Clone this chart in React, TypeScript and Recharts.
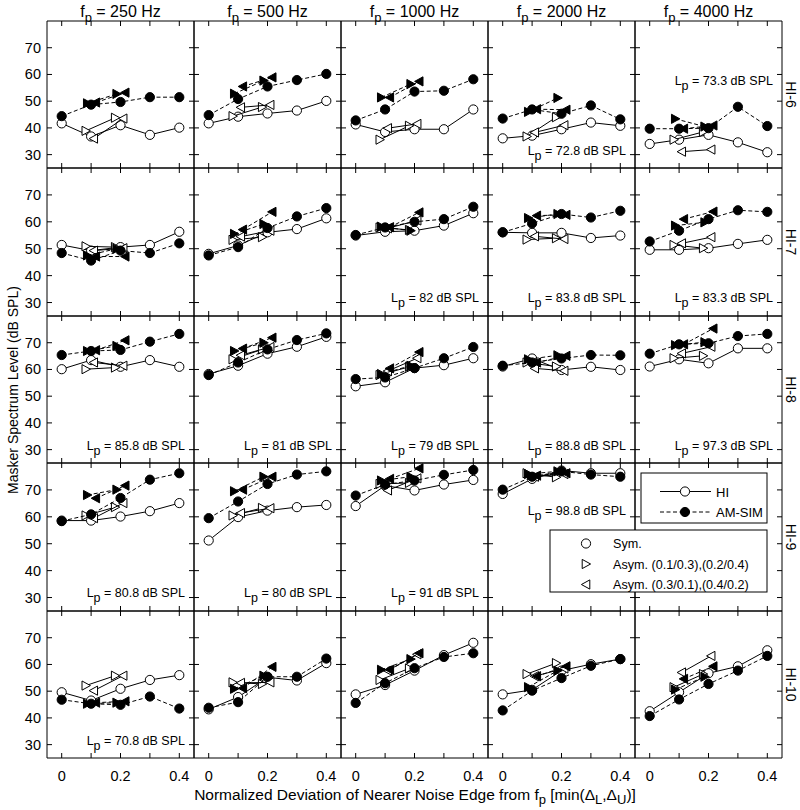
import React from 'react';
import { ScatterChart, Scatter, XAxis, YAxis } from 'recharts';

const frequencies = ['250', '500', '1000', '2000', '4000'];
const listeners = ['HI-6', 'HI-7', 'HI-8', 'HI-9', 'HI-10'];
const xSym = [0, 0.1, 0.2, 0.3, 0.4];
// asymmetric notches are plotted a little left / right of 0.1 and 0.2
const xRightHI = [0.082, 0.182];
const xRightAM = [0.087, 0.187];
const xLeftHI = [0.109, 0.209];
const xLeftAM = [0.116, 0.216];
const xTicks = [0, 0.1, 0.2, 0.3, 0.4];
const xTickLabels = [0, 0.2, 0.4];
const yTicks = [30, 40, 50, 60, 70];

// one entry per frequency (250 ... 4000 Hz)
const hi6SymHI = [[41.7, 36.8, 41.0, 37.4, 40.1], [41.7, 44.2, 45.4, 46.5, 50.1], [41.3, 38.5, 39.5, 39.5, 46.9], [36.1, 37.1, 39.5, 42.0, 40.8], [34.0, 35.6, 37.4, 34.6, 30.9]];
const hi6SymAM = [[44.4, 48.7, 49.7, 51.5, 51.5], [44.8, 50.8, 55.5, 57.9, 60.2], [42.8, 46.9, 53.6, 53.9, 58.2], [43.5, 46.9, 45.3, 48.4, 43.2], [39.7, 39.7, 39.9, 47.9, 40.7]];
const hi6RightHI = [[38.9, 43.8], [44.4, 47.8], [35.6, 40.8], [36.8, 44.0], [35.6, 38.5]];
const hi6RightAM = [[49.2, 52.7], [52.8, 57.7], [51.4, 56.4], [46.0, 51.2], [43.4, 40.5]];
const hi6LeftHI = [[36.0, 43.5], [47.7, 48.6], [39.9, 41.5], [38.3, 41.0], [31.1, 31.9]];
const hi6LeftAM = [[49.5, 53.2], [55.5, 58.9], [51.4, 57.4], [47.0, 46.8], [39.7, 40.9]];

const hi7SymHI = [[51.4, 49.3, 50.6, 51.4, 56.3], [48.1, 51.2, 56.1, 57.3, 61.3], [54.9, 56.3, 56.7, 58.6, 63.2], [56.1, 55.9, 55.9, 54.0, 54.9], [49.6, 49.6, 50.2, 51.8, 53.3]];
const hi7SymAM = [[48.4, 45.6, 49.3, 48.4, 52.0], [47.5, 50.6, 57.7, 62.0, 65.1], [55.1, 57.9, 60.0, 61.0, 65.6], [56.1, 59.4, 62.9, 61.6, 64.1], [52.7, 56.7, 61.0, 64.3, 63.7]];
const hi7RightHI = [[50.9, 50.6], [53.3, 54.3], [57.9, 57.0], [53.4, 53.9], [51.4, 50.2]];
const hi7RightAM = [[47.5, 50.0], [55.5, 59.2], [58.2, 56.7], [61.4, 62.9], [58.6, 59.8]];
const hi7LeftHI = [[49.3, 50.2], [54.5, 56.7], [57.6, 60.5], [54.6, 53.6], [52.0, 54.3]];
const hi7LeftAM = [[47.1, 47.1], [57.1, 63.7], [58.0, 63.5], [62.3, 62.6], [61.0, 63.8]];

const hi8SymHI = [[60.1, 63.5, 61.0, 63.5, 61.0], [58.3, 61.4, 65.9, 68.5, 72.2], [53.7, 55.2, 60.5, 61.6, 64.2], [61.1, 64.1, 59.8, 61.0, 59.8], [61.1, 63.8, 62.3, 67.9, 67.9]];
const hi8SymAM = [[65.4, 66.9, 67.3, 70.4, 73.3], [57.9, 62.6, 67.5, 71.0, 73.5], [56.4, 57.0, 60.5, 64.2, 68.4], [61.4, 62.6, 64.1, 65.4, 65.3], [65.9, 69.4, 69.8, 72.5, 73.3]];
const hi8RightHI = [[60.1, 60.7], [63.8, 67.5], [57.9, 61.0], [62.6, 61.1], [64.2, 65.1]];
const hi8RightAM = [[66.9, 68.8], [66.9, 70.0], [58.3, 61.4], [63.8, 65.3], [69.1, 70.2]];
const hi8LeftHI = [[62.6, 61.4], [65.3, 68.4], [59.4, 64.2], [60.4, 59.5], [66.0, 68.5]];
const hi8LeftAM = [[67.2, 70.9], [67.8, 71.9], [60.4, 66.5], [62.6, 65.1], [69.4, 75.3]];

const hi9SymHI = [[58.6, 58.6, 60.1, 62.1, 65.1], [51.2, 59.9, 62.3, 63.6, 64.4], [64.0, 71.6, 69.8, 72.0, 73.7], [68.5, 74.1, 77.2, 76.2, 76.2], null];
const hi9SymAM = [[58.4, 60.9, 67.0, 73.8, 76.2], [59.5, 65.7, 72.2, 75.7, 76.9], [67.9, 72.0, 73.5, 75.6, 77.4], [70.1, 74.9, 76.9, 75.7, 74.9], null];
const hi9RightHI = [[60.5, 63.6], [60.5, 63.3], [72.2, 72.6], [76.2, 74.7], null];
const hi9RightAM = [[68.1, 70.1], [69.5, 74.9], [73.5, 74.9], [75.9, 76.9], null];
const hi9LeftHI = [[59.5, 65.1], [61.4, 63.2], [69.8, 74.3], [74.9, 75.9], null];
const hi9LeftAM = [[66.9, 71.6], [70.1, 74.9], [74.1, 78.0], [75.3, 76.2], null];

const hi10SymHI = [[49.6, 46.5, 50.9, 54.2, 56.0], [43.2, 47.8, 55.2, 54.0, 60.5], [48.8, 52.3, 57.7, 63.5, 68.1], [48.8, 50.5, 57.7, 60.1, 62.0], [42.5, 49.6, 56.7, 59.3, 65.3]];
const hi10SymAM = [[46.8, 45.3, 44.9, 48.0, 43.5], [43.8, 45.9, 55.4, 55.4, 62.2], [45.6, 53.0, 58.6, 62.8, 64.2], [42.8, 50.2, 54.9, 59.5, 62.0], [40.7, 46.9, 52.7, 57.7, 63.2]];
const hi10RightHI = [[52.1, 55.8], [53.3, 52.7], [54.2, 58.5], [56.4, 60.5], [51.5, 56.4]];
const hi10RightAM = [[45.3, 45.7], [50.9, 55.8], [58.0, 62.0], [51.5, 57.7], [50.6, 55.4]];
const hi10LeftHI = [[50.2, 55.8], [53.1, 53.3], [57.7, 63.8], [55.6, 58.5], [57.0, 63.2]];
const hi10LeftAM = [[45.7, 46.2], [51.1, 59.1], [58.0, 64.2], [55.6, 59.3], [54.6, 59.3]];

// probe level L_p printed in each panel (dB SPL)
const lpHI6 = [null, null, null, '72.8', '73.3'];
const lpHI7 = [null, null, '82', '83.8', '83.3'];
const lpHI8 = ['85.8', '81', '79', '88.8', '97.3'];
const lpHI9 = ['80.8', '80', '91', '98.8', null];
const lpHI10 = ['70.8', null, null, null, null];

const symHI = [hi6SymHI, hi7SymHI, hi8SymHI, hi9SymHI, hi10SymHI];
const symAM = [hi6SymAM, hi7SymAM, hi8SymAM, hi9SymAM, hi10SymAM];
const rightHI = [hi6RightHI, hi7RightHI, hi8RightHI, hi9RightHI, hi10RightHI];
const rightAM = [hi6RightAM, hi7RightAM, hi8RightAM, hi9RightAM, hi10RightAM];
const leftHI = [hi6LeftHI, hi7LeftHI, hi8LeftHI, hi9LeftHI, hi10LeftHI];
const leftAM = [hi6LeftAM, hi7LeftAM, hi8LeftAM, hi9LeftAM, hi10LeftAM];
const lpLabels = [lpHI6, lpHI7, lpHI8, lpHI9, lpHI10];

const FONT = '"Liberation Sans", Arial, Helvetica, sans-serif';
const GRID_LEFT = 47;
const GRID_TOP = 21;
const PANEL_W = 147;
const PANEL_H = 147.4;
const PAD = 6;
const TICK = 5;
const DASH = '4 2.5';

const rowTop = (r: number) => Math.round(GRID_TOP + r * PANEL_H);
const colLeft = (c: number) => GRID_LEFT + c * PANEL_W;

function marker(kind: string, filled: boolean) {
  return (p: any) => {
    const { cx, cy } = p;
    if (cx == null || cy == null) return <g />;
    const fill = filled ? '#000' : '#fff';
    if (kind === 'o') {
      return <circle cx={cx} cy={cy} r={4.6} fill={fill} stroke="#000" strokeWidth={1} />;
    }
    const pts = kind === 'r'
      ? [[-3.8, -4.6], [-3.8, 4.6], [4.6, 0]]
      : [[3.8, -4.6], [3.8, 4.6], [-4.6, 0]];
    return (
      <polygon
        points={pts.map(([dx, dy]) => `${cx + dx},${cy + dy}`).join(' ')}
        fill={fill}
        stroke="#000"
        strokeWidth={1}
      />
    );
  };
}

const bottomTick = (showLabel: boolean) => (p: any) => (
  <g>
    <line x1={p.x} x2={p.x} y1={p.y} y2={p.y - TICK} stroke="#000" />
    {showLabel && xTickLabels.includes(p.payload.value) && (
      <text x={p.x} y={p.y + 23} textAnchor="middle" fontSize={14.5} fontFamily={FONT} fill="#000">
        {String(p.payload.value)}
      </text>
    )}
  </g>
);
const topTick = (p: any) => <line x1={p.x} x2={p.x} y1={p.y} y2={p.y + TICK} stroke="#000" />;
const leftTick = (showLabel: boolean) => (p: any) => (
  <g>
    <line x1={p.x} x2={p.x + TICK} y1={p.y} y2={p.y} stroke="#000" />
    {showLabel && (
      <text x={p.x - 6} y={p.y + 5} textAnchor="end" fontSize={14.5} fontFamily={FONT} fill="#000">
        {String(p.payload.value)}
      </text>
    )}
  </g>
);
const rightTick = (p: any) => <line x1={p.x} x2={p.x - TICK} y1={p.y} y2={p.y} stroke="#000" />;

const axisCommon = {
  type: 'number' as const,
  interval: 0,
  allowDataOverflow: true,
  tickSize: 0,
  tickMargin: 0,
  tickLine: false,
  axisLine: { stroke: '#000', strokeWidth: 1 },
};

function Panel({ r, c }: { r: number; c: number }) {
  const top = rowTop(r);
  const h = rowTop(r + 1) - top;
  const left = colLeft(c);
  const yW = c === 0 ? 40 : 1;
  const xH = r === 4 ? 30 : 1;

  // HI series use the bottom/left axes, AM-SIM series the top/right ones (same scales)
  const series = [
    { ys: symHI[r][c], xs: xSym, kind: 'o', filled: false },
    { ys: rightHI[r][c], xs: xRightHI, kind: 'r', filled: false },
    { ys: leftHI[r][c], xs: xLeftHI, kind: 'l', filled: false },
    { ys: symAM[r][c], xs: xSym, kind: 'o', filled: true },
    { ys: rightAM[r][c], xs: xRightAM, kind: 'r', filled: true },
    { ys: leftAM[r][c], xs: xLeftAM, kind: 'l', filled: true },
  ];

  return (
    <div style={{ position: 'absolute', left: left - PAD - yW, top: top - PAD - 1 }}>
      <ScatterChart
        width={PAD + yW + PANEL_W + 1 + PAD}
        height={PAD + 1 + h + xH + PAD}
        margin={{ top: PAD, right: PAD, bottom: PAD, left: PAD }}
      >
        <XAxis
          {...axisCommon}
          xAxisId="b"
          dataKey="x"
          orientation="bottom"
          domain={[-0.05, 0.45]}
          ticks={xTicks}
          height={xH}
          tick={bottomTick(r === 4)}
        />
        <XAxis
          {...axisCommon}
          xAxisId="t"
          dataKey="x"
          orientation="top"
          domain={[-0.05, 0.45]}
          ticks={xTicks}
          height={1}
          tick={topTick}
        />
        <YAxis
          {...axisCommon}
          yAxisId="l"
          dataKey="y"
          orientation="left"
          domain={[25, 80]}
          ticks={yTicks}
          width={yW}
          tick={leftTick(c === 0)}
        />
        <YAxis
          {...axisCommon}
          yAxisId="r"
          dataKey="y"
          orientation="right"
          domain={[25, 80]}
          ticks={yTicks}
          width={1}
          tick={rightTick}
        />
        {series.map((s, i) =>
          s.ys ? (
            <Scatter
              key={i}
              xAxisId={s.filled ? 't' : 'b'}
              yAxisId={s.filled ? 'r' : 'l'}
              data={s.ys.map((y, j) => ({ x: s.xs[j], y }))}
              fill="#000"
              line={{ stroke: '#000', strokeWidth: 1, strokeDasharray: s.filled ? DASH : undefined }}
              lineType="joint"
              shape={marker(s.kind, s.filled)}
              isAnimationActive={false}
            />
          ) : null
        )}
      </ScatterChart>
    </div>
  );
}

function Overlay() {
  const lpTexts: React.ReactNode[] = [];
  lpLabels.forEach((row, r) => {
    row.forEach((lp, c) => {
      if (!lp) return;
      let off = 133.5;
      if (r === 0 && c === 4) off = 63.5;
      if (r === 3 && c === 3) off = 52;
      lpTexts.push(
        <text key={`${r}-${c}`} x={colLeft(c + 1) - 9} y={rowTop(r) + off} textAnchor="end" fontSize={12.5}>
          L<tspan dy={5}>p</tspan>
          <tspan dy={-5}> = {lp} dB SPL</tspan>
        </text>
      );
    });
  });

  return (
    <svg
      width={800}
      height={810}
      style={{ position: 'absolute', left: 0, top: 0, pointerEvents: 'none' }}
      fontFamily={FONT}
      fill="#000"
    >
      {frequencies.map((f, c) => (
        <text key={f} x={colLeft(c) + PANEL_W / 2} y={17} textAnchor="middle" fontSize={16}>
          f<tspan dy={5} fontSize={13}>p</tspan>
          <tspan dy={-5}> = {f} Hz</tspan>
        </text>
      ))}
      {listeners.map((name, r) => {
        const yc = (rowTop(r) + rowTop(r + 1)) / 2;
        return (
          <text key={name} x={786} y={yc} textAnchor="middle" fontSize={14} transform={`rotate(90, 786, ${yc})`}>
            {name}
          </text>
        );
      })}
      <text x={18} y={390} textAnchor="middle" fontSize={14} transform="rotate(-90, 18, 390)">
        Masker Spectrum Level (dB SPL)
      </text>
      <text x={415} y={800} textAnchor="middle" fontSize={15.5}>
        Normalized Deviation of Nearer Noise Edge from f<tspan dy={4} fontSize={13}>p</tspan>
        <tspan dy={-4}> [min(Δ</tspan>
        <tspan dy={4} fontSize={13}>L</tspan>
        <tspan dy={-4}>,Δ</tspan>
        <tspan dy={4} fontSize={13}>U</tspan>
        <tspan dy={-4}>)]</tspan>
      </text>
      {lpTexts}

      <rect x={641} y={473} width={126} height={50} fill="#fff" stroke="#000" />
      <line x1={660} x2={711} y1={491.5} y2={491.5} stroke="#000" />
      {marker('o', false)({ cx: 685, cy: 491.5 })}
      <text x={716} y={496.5} fontSize={13}>HI</text>
      <line x1={660} x2={711} y1={512} y2={512} stroke="#000" strokeDasharray={DASH} />
      {marker('o', true)({ cx: 685, cy: 512 })}
      <text x={716} y={517} fontSize={13}>AM-SIM</text>

      <rect x={550} y={530} width={217} height={62} fill="#fff" stroke="#000" />
      {marker('o', false)({ cx: 586, cy: 543.5 })}
      <text x={613} y={548} fontSize={12.6}>Sym.</text>
      {marker('r', false)({ cx: 586, cy: 564 })}
      <text x={613} y={568.5} fontSize={12.6}>Asym. (0.1/0.3),(0.2/0.4)</text>
      {marker('l', false)({ cx: 586, cy: 584.5 })}
      <text x={613} y={589} fontSize={12.6}>Asym. (0.3/0.1),(0.4/0.2)</text>
    </svg>
  );
}

export default function App() {
  const panels = [];
  for (let r = 0; r < 5; r++) {
    for (let c = 0; c < 5; c++) {
      panels.push(<Panel key={`${r}-${c}`} r={r} c={c} />);
    }
  }
  return (
    <div style={{ position: 'absolute', left: 0, top: 0, width: 800, height: 810, background: '#fff', fontFamily: FONT }}>
      {panels}
      <Overlay />
    </div>
  );
}
